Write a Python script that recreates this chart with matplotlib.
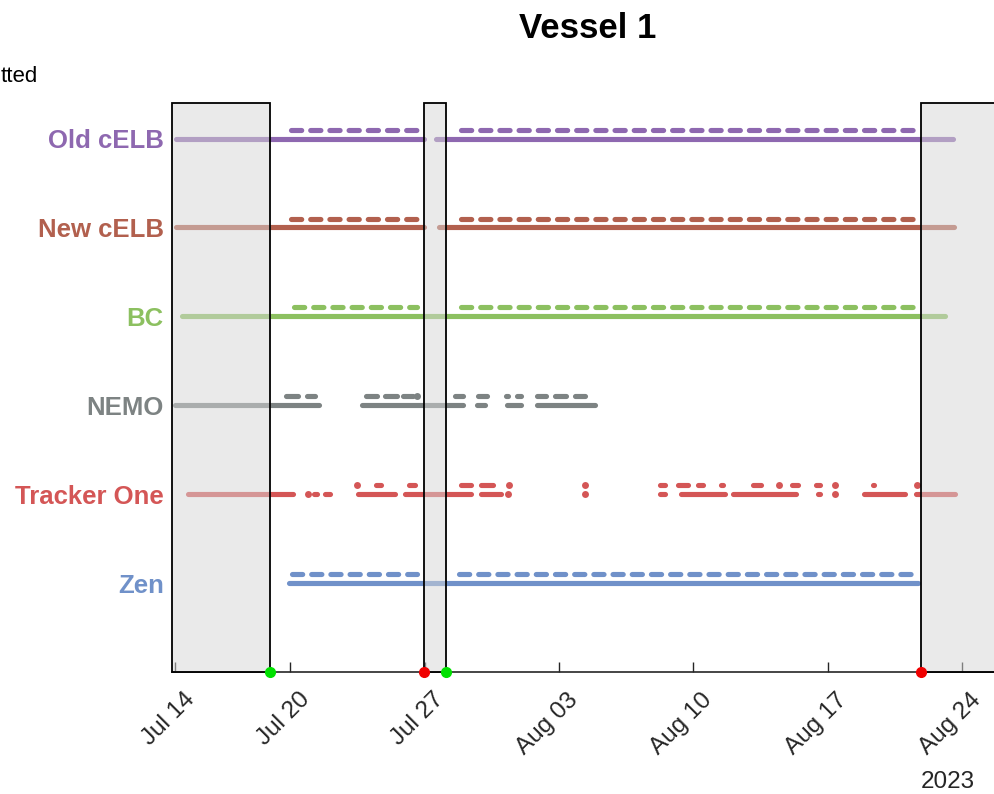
import matplotlib
matplotlib.use('Agg')
import matplotlib.pyplot as plt
import matplotlib.dates as mdates
import matplotlib.transforms as mtransforms
from matplotlib.patches import Rectangle
import pandas as pd

plt.rcParams['font.family'] = ['Liberation Sans', 'DejaVu Sans']
plt.rcParams['lines.scale_dashes'] = False

YEAR = '2023-'

categories = ['Old cELB', 'New cELB', 'BC', 'NEMO', 'Tracker One', 'Zen']
colors = ['#8e68b0', '#b2604e', '#8cc060', '#7d8383', '#d45656', '#7091c9']

# coverage (lower, solid line) for each source: (start, end)
old_celb = [('07-14 00:30', '07-26 23:30'), ('07-27 13:40', '08-23 12:15')]
new_celb = [('07-14 00:30', '07-26 23:30'), ('07-27 17:20', '08-23 13:30')]
bc = [('07-14 09:00', '08-23 02:10')]
nemo = [('07-14 00:00', '07-21 11:30'), ('07-23 17:00', '07-28 23:30'),
        ('07-29 18:00', '07-30 04:00'), ('07-31 07:00', '08-01 00:00'),
        ('08-01 20:00', '08-04 21:00')]
tracker = [('07-14 15:30', '07-20 02:45'), ('07-20 22:00', '07-20 22:00'),
           ('07-21 05:30', '07-21 09:00'), ('07-21 18:45', '07-22 01:00'),
           ('07-22 13:30', '07-22 14:40'), ('07-23 12:00', '07-25 10:20'),
           ('07-25 22:50', '07-29 09:20'), ('07-29 22:00', '07-30 22:50'),
           ('07-31 08:10', '07-31 08:10'), ('08-04 08:40', '08-04 08:40'),
           ('08-08 05:50', '08-08 12:00'), ('08-09 08:00', '08-11 15:10'),
           ('08-12 01:00', '08-15 08:00'), ('08-16 11:20', '08-16 14:00'),
           ('08-17 09:10', '08-17 09:10'), ('08-18 22:00', '08-21 00:15'),
           ('08-21 14:00', '08-23 15:50')]
zen = [('07-19 22:20', '08-21 17:30')]

# daily records (upper line)
old_celb_daily = [('07-20 00:15', '07-26 15:00'), ('07-28 21:00', '08-21 16:20')]
new_celb_daily = [('07-20 00:15', '07-26 18:40'), ('07-28 21:00', '08-21 16:20')]
bc_daily = [('07-20 04:00', '07-26 15:00'), ('07-28 21:00', '08-21 16:20')]
nemo_daily = [('07-19 18:00', '07-20 09:00'), ('07-20 21:00', '07-21 06:30'),
              ('07-23 22:00', '07-24 13:00'), ('07-24 23:00', '07-25 14:00'),
              ('07-25 21:00', '07-26 09:00'), ('07-26 15:00', '07-26 15:00'),
              ('07-28 14:00', '07-28 23:30'), ('07-29 19:00', '07-30 05:30'),
              ('07-31 06:00', '07-31 08:00'), ('07-31 20:00', '08-01 00:00'),
              ('08-01 21:00', '08-02 07:30'), ('08-02 19:30', '08-03 08:30'),
              ('08-03 20:30', '08-04 08:00')]
tracker_daily = [('07-23 11:30', '07-23 11:30'), ('07-24 10:30', '07-24 16:50'),
                 ('07-26 05:00', '07-26 12:30'), ('07-28 21:00', '07-29 09:20'),
                 ('07-29 23:00', '07-30 13:00'), ('07-31 09:40', '07-31 09:40'),
                 ('08-04 08:40', '08-04 08:40'), ('08-08 05:50', '08-08 12:00'),
                 ('08-09 04:20', '08-09 16:50'), ('08-10 05:20', '08-10 11:30'),
                 ('08-11 10:00', '08-11 13:40'), ('08-13 02:10', '08-13 12:00'),
                 ('08-14 11:20', '08-14 11:20'), ('08-15 04:00', '08-15 10:20'),
                 ('08-16 10:00', '08-16 14:00'), ('08-17 09:10', '08-17 09:10'),
                 ('08-19 08:10', '08-19 10:30'), ('08-21 15:40', '08-21 15:40')]
zen_daily = [('07-20 02:40', '07-26 15:00'), ('07-28 18:40', '08-21 09:00')]

coverage = [old_celb, new_celb, bc, nemo, tracker, zen]
daily = [old_celb_daily, new_celb_daily, bc_daily, nemo_daily, tracker_daily, zen_daily]
daily_dashed = [True, True, True, False, False, True]

# logging started (green) / stopped (red)
starts = ['07-18 22:40', '07-28 02:10']
stops = ['07-26 23:30', '08-21 20:10']

tick_days = ['07-14', '07-20', '07-27', '08-03', '08-10', '08-17', '08-24']
x_range = ('07-13 20:00', '08-25 16:00')


def t(s):
    return pd.Timestamp(YEAR + s)


fig = plt.figure(figsize=(9.94, 7.94), dpi=100)
ax = fig.add_axes([172 / 994, 122 / 794, 1 - 172 / 994, (672 - 103) / 794])
ax.set_xlim(t(x_range[0]), t(x_range[1]))
ax.set_ylim(0, 6.4)

# dash period = one day on screen
p0 = ax.transData.transform((mdates.date2num(t('07-20')), 0))[0]
p1 = ax.transData.transform((mdates.date2num(t('07-21')), 0))[0]
day_pt = (p1 - p0) * 72 / fig.dpi
lw = 3.7
dash_on = 0.8 * day_pt - lw
dash_pattern = (dash_on, day_pt - dash_on)


def draw_row(ax, spans, y, c, dashed=False):
    for s, e in spans:
        ts, te = t(s), t(e)
        if te <= ts:
            # single record -> round dot
            ax.plot([ts], [y], 'o', color=c, ms=lw * 1.35, mew=0, zorder=2)
        elif dashed:
            ax.plot([ts, te], [y, y], color=c, lw=lw, dashes=dash_pattern,
                    dash_capstyle='round', zorder=2)
        else:
            ax.plot([ts, te], [y, y], color=c, lw=lw, solid_capstyle='round', zorder=2)


n = len(categories)
for i in range(n):
    y = n - i
    draw_row(ax, coverage[i], y, colors[i])
    draw_row(ax, daily[i], y + 0.1, colors[i], daily_dashed[i])

# shaded periods when not logging
x0 = mdates.date2num(t(x_range[0]))
off_edges = [x0] + [mdates.date2num(t(s)) for s in stops]
on_edges = [mdates.date2num(t(s)) for s in starts] + [x0 + 60]
for a, b in zip(off_edges, on_edges):
    ax.add_patch(Rectangle((a, 0), b - a, 6.4, facecolor=(0.843, 0.843, 0.843, 0.5),
                           edgecolor='black', lw=1.3, zorder=3, clip_on=False))

ax.plot([t(s) for s in starts], [0] * len(starts), 'o', color='#00e000', ms=7,
        zorder=5, clip_on=False)
ax.plot([t(s) for s in stops], [0] * len(stops), 'o', color='#f00000', ms=7,
        zorder=5, clip_on=False)

ax.set_yticks(range(n, 0, -1))
ax.set_yticklabels(categories, fontsize=18.5, fontweight='bold')
for lab, c in zip(ax.get_yticklabels(), colors):
    lab.set_color(c)
ax.tick_params(axis='y', length=0, pad=6)

ax.set_xticks([t(d) for d in tick_days])
ax.xaxis.set_major_formatter(mdates.DateFormatter('%b %d'))
ax.tick_params(axis='x', direction='in', length=7, width=1, pad=12,
               labelsize=17.5, colors='#262626')
shift = mtransforms.ScaledTranslation(8 / 100, 0, fig.dpi_scale_trans)
for lab in ax.get_xticklabels():
    lab.set_rotation(45)
    lab.set_ha('right')
    lab.set_va('top')
    lab.set_rotation_mode('anchor')
    lab.set_transform(lab.get_transform() + shift)

for side in ['top', 'right', 'left']:
    ax.spines[side].set_visible(False)
ax.spines['bottom'].set_color('#262626')
ax.spines['bottom'].set_linewidth(1.2)

fig.text(588 / 994, 1 - 28 / 794, 'Vessel 1', fontsize=25, fontweight='bold',
         ha='center', va='center')
fig.text(1 / 994, 1 - 76 / 794, 'tted', fontsize=16, ha='left', va='center')
fig.text(948 / 994, 1 - 782 / 794, '2023', fontsize=17.5, ha='center', va='center',
         color='#262626')

fig.savefig('out.png', dpi=100)
